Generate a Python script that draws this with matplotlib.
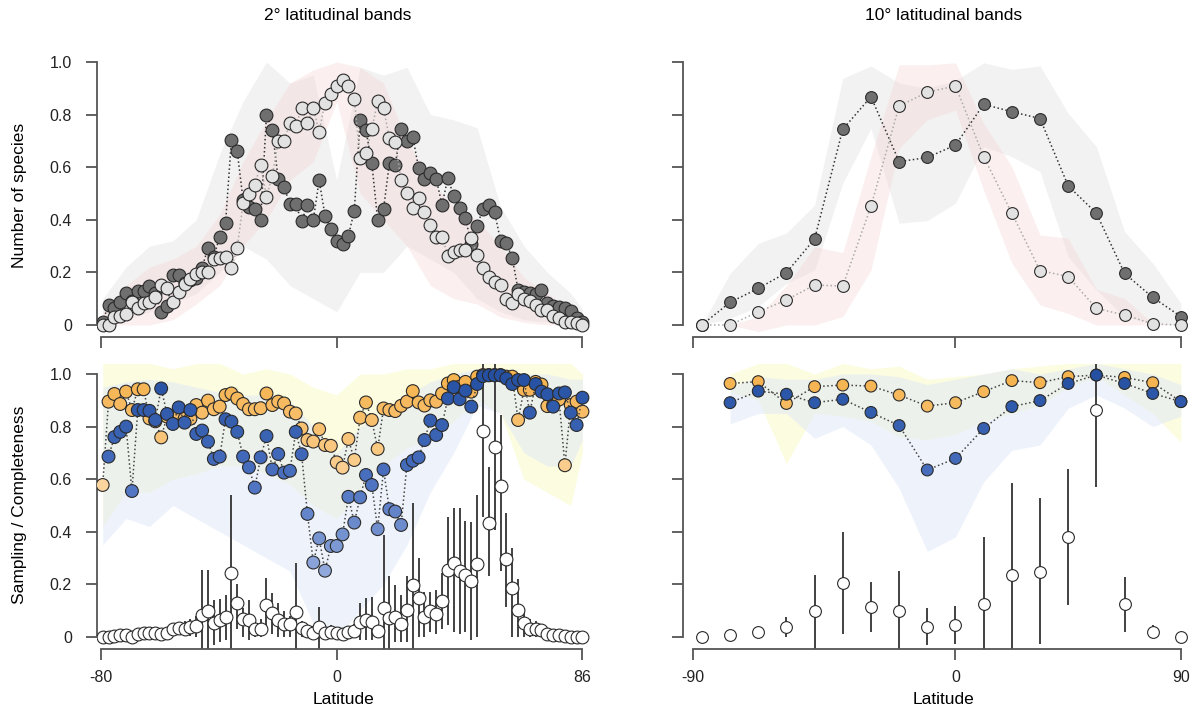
import numpy as np
import matplotlib
matplotlib.use('Agg')
import matplotlib.pyplot as plt
from matplotlib.colors import LinearSegmentedColormap, Normalize

plt.rcParams['font.family'] = ['Liberation Sans', 'DejaVu Sans']

# ---- 2 degree bands (83 bands, plotted by band index) ----
ticks_2 = [-0.3, 40, 82]
tick_labels_2 = ['-80', '0', '86']

dark_2 = [0.013, 0.076, 0.065, 0.089, 0.12, 0.09, 0.13, 0.13, 0.148, 0.12,
          0.048, 0.074, 0.19, 0.19, 0.16, 0.17, 0.18, 0.218, 0.294, 0.26,
          0.336, 0.387, 0.703, 0.66, 0.475, 0.45, 0.44, 0.40, 0.80, 0.74,
          0.555, 0.526, 0.459, 0.459, 0.395, 0.456, 0.40, 0.55, 0.416, 0.365,
          0.32, 0.307, 0.34, 0.433, 0.78, 0.74, 0.615, 0.40, 0.44, 0.615,
          0.61, 0.745, 0.70, 0.716, 0.596, 0.557, 0.577, 0.557, 0.456, 0.56,
          0.49, 0.446, 0.408, 0.307, 0.378, 0.44, 0.456, 0.428, 0.32, 0.31,
          0.256, 0.133, 0.124, 0.12, 0.117, 0.133, 0.082, 0.074, 0.07, 0.066,
          0.053, 0.025, 0.013]
light_2 = [0.0, 0.0, 0.032, 0.034, 0.04, 0.089, 0.063, 0.082, 0.086, 0.108,
           0.152, 0.14, 0.089, 0.127, 0.155, 0.175, 0.193, 0.20, 0.203, 0.25,
           0.256, 0.26, 0.215, 0.294, 0.463, 0.497, 0.532, 0.61, 0.488, 0.568,
           0.70, 0.70, 0.767, 0.757, 0.824, 0.767, 0.824, 0.735, 0.845, 0.88,
           0.91, 0.93, 0.91, 0.86, 0.634, 0.653, 0.745, 0.852, 0.826, 0.71,
           0.695, 0.551, 0.50, 0.444, 0.484, 0.43, 0.38, 0.336, 0.336, 0.264,
           0.279, 0.285, 0.285, 0.332, 0.266, 0.218, 0.184, 0.165, 0.152, 0.10,
           0.082, 0.117, 0.10, 0.091, 0.076, 0.057, 0.057, 0.036, 0.025, 0.013,
           0.013, 0.006, 0.0]

# envelopes read every 4th band
band_x_2 = [0, 4, 8, 12, 16, 20, 24, 28, 32, 36, 40, 44, 48, 52, 56, 60, 64, 68, 72, 76, 80, 82]
dark_lo_2 = [0.0, 0.02, 0.05, 0.08, 0.12, 0.20, 0.30, 0.25, 0.15, 0.10, 0.05,
             0.20, 0.20, 0.30, 0.25, 0.20, 0.10, 0.05, 0.02, 0.01, 0.0, 0.0]
dark_hi_2 = [0.10, 0.22, 0.30, 0.32, 0.40, 0.65, 0.85, 1.0, 0.92, 0.95, 0.55,
             0.98, 0.95, 0.98, 0.80, 0.78, 0.75, 0.45, 0.30, 0.20, 0.12, 0.06]
light_lo_2 = [0.0, 0.0, 0.0, 0.02, 0.08, 0.15, 0.30, 0.40, 0.55, 0.62, 0.85,
              0.50, 0.40, 0.30, 0.15, 0.10, 0.08, 0.03, 0.01, 0.0, 0.0, 0.0]
light_hi_2 = [0.05, 0.15, 0.22, 0.25, 0.30, 0.42, 0.62, 0.78, 0.92, 0.97, 1.0,
              0.98, 0.92, 0.70, 0.55, 0.45, 0.40, 0.30, 0.18, 0.12, 0.06, 0.02]

orange_2 = [0.578, 0.895, 0.924, 0.886, 0.933, 0.863, 0.942, 0.942, 0.831, 0.82,
            0.759, 0.838, 0.84, 0.85, 0.83, 0.83, 0.882, 0.853, 0.899, 0.866,
            0.876, 0.92, 0.926, 0.907, 0.886, 0.866, 0.866, 0.87, 0.926, 0.882,
            0.895, 0.888, 0.857, 0.85, 0.793, 0.749, 0.743, 0.79, 0.73, 0.727,
            0.664, 0.644, 0.753, 0.673, 0.834, 0.892, 0.825, 0.715, 0.869, 0.863,
            0.859, 0.879, 0.895, 0.935, 0.892, 0.88, 0.9, 0.895, 0.926, 0.964,
            0.977, 0.952, 0.97, 0.933, 0.99, 0.996, 0.996, 0.996, 0.996, 0.99,
            0.99, 0.825, 0.94, 0.94, 0.97, 0.96, 0.878, 0.882, 0.903, 0.653,
            0.882, 0.895, 0.857]
blue_2 = [np.nan, 0.686, 0.76, 0.78, 0.80, 0.555, 0.863, 0.863, 0.86, 0.825,
          0.945, 0.848, 0.81, 0.873, 0.815, 0.863, 0.772, 0.785, 0.743, 0.677,
          0.686, 0.828, 0.819, 0.78, 0.686, 0.645, 0.568, 0.683, 0.764, 0.637,
          0.696, 0.625, 0.632, 0.78, 0.695, 0.468, 0.283, 0.375, 0.252, 0.346,
          0.346, 0.39, 0.533, 0.435, 0.531, 0.616, 0.578, 0.41, 0.637, 0.486,
          0.477, 0.426, 0.654, 0.67, 0.683, 0.749, 0.823, 0.768, 0.806, 0.907,
          0.95, 0.904, 0.937, 0.876, 0.962, 0.992, 0.995, 0.995, 0.995, 0.983,
          0.962, 0.977, 0.977, 0.853, 0.962, 0.933, 0.923, 0.876, 0.926, 0.93,
          0.853, 0.806, 0.91]
orange_lo_2 = [0.42, 0.55, 0.55, 0.60, 0.62, 0.65, 0.65, 0.62, 0.58, 0.50, 0.45,
               0.55, 0.65, 0.72, 0.75, 0.82, 0.90, 0.85, 0.60, 0.55, 0.50, 0.70]
orange_hi_2 = [1.04, 1.04, 1.04, 1.02, 1.04, 1.04, 1.0, 1.02, 1.0, 0.95, 0.92,
               1.0, 1.0, 1.02, 1.02, 1.04, 1.04, 1.04, 1.04, 1.04, 1.04, 1.0]
blue_lo_2 = [0.35, 0.45, 0.42, 0.50, 0.45, 0.40, 0.35, 0.30, 0.25, 0.05, 0.0,
             0.10, 0.20, 0.35, 0.55, 0.70, 0.88, 0.85, 0.70, 0.65, 0.65, 0.75]
blue_hi_2 = [0.95, 0.97, 0.98, 0.97, 0.95, 0.93, 0.92, 0.92, 0.90, 0.80, 0.70,
             0.80, 0.85, 0.92, 0.97, 1.0, 1.02, 1.02, 1.0, 1.0, 0.98, 0.98]

samp_2 = [0.0, 0.001, 0.004, 0.006, 0.008, 0.0, 0.011, 0.014, 0.014, 0.014,
          0.011, 0.014, 0.029, 0.033, 0.029, 0.039, 0.042, 0.084, 0.10, 0.052,
          0.065, 0.075, 0.242, 0.131, 0.067, 0.065, 0.029, 0.03, 0.122, 0.09,
          0.065, 0.048, 0.048, 0.094, 0.033, 0.023, 0.014, 0.039, 0.014, 0.018,
          0.014, 0.01, 0.02, 0.023, 0.056, 0.065, 0.058, 0.023, 0.112, 0.074,
          0.077, 0.048, 0.103, 0.198, 0.147, 0.075, 0.10, 0.087, 0.138, 0.255,
          0.283, 0.252, 0.236, 0.214, 0.278, 0.785, 0.435, 0.721, 0.574, 0.295,
          0.185, 0.103, 0.054, 0.029, 0.029, 0.027, 0.011, 0.008, 0.008, 0.004,
          0.0, 0.0, 0.0]
samp_lo_2 = [0, 0, 0, 0, 0, 0, 0, 0, 0, 0,
             0, 0, 0.01, 0.01, 0.005, 0.005, 0.0, -0.05, -0.05, -0.03,
             -0.02, -0.01, -0.05, 0.03, 0.0, -0.01, 0.0, 0.0, 0.03, 0.01,
             0.0, 0.0, 0.0, -0.05, 0.0, 0.0, 0.0, -0.05, 0.0, 0.0,
             0.0, 0.0, 0.0, 0.0, -0.01, -0.01, -0.01, 0.0, -0.05, -0.05,
             -0.02, -0.02, -0.02, -0.05, 0.0, 0.0, 0.02, 0.01, 0.03, 0.046,
             0.02, 0.01, 0.02, -0.01, 0.0, 0.457, 0.23, 0.407, 0.25, 0.115,
             0.0, 0.0, 0.0, 0.0, 0.0, 0.0, 0.0, 0, 0, 0,
             0, 0, 0]
samp_hi_2 = [0, 0.005, 0.01, 0.012, 0.015, 0.005, 0.02, 0.025, 0.025, 0.03,
             0.025, 0.03, 0.05, 0.055, 0.06, 0.07, 0.08, 0.255, 0.255, 0.14,
             0.143, 0.16, 0.54, 0.20, 0.11, 0.14, 0.07, 0.07, 0.223, 0.166,
             0.13, 0.10, 0.08, 0.28, 0.06, 0.05, 0.04, 0.115, 0.04, 0.045,
             0.035, 0.03, 0.04, 0.05, 0.13, 0.147, 0.153, 0.06, 0.388, 0.233,
             0.198, 0.16, 0.233, 0.508, 0.30, 0.17, 0.172, 0.18, 0.242, 0.458,
             0.489, 0.489, 0.44, 0.438, 0.54, 1.05, 0.648, 1.05, 0.844, 0.47,
             0.337, 0.22, 0.11, 0.07, 0.06, 0.05, 0.03, 0.02, 0.015, 0.01,
             0.005, 0, 0]

# ---- 10 degree bands (18 bands) ----
ticks_10 = [-0.32, 9, 17]
tick_labels_10 = ['-90', '0', '90']

dark_10 = [0.0, 0.086, 0.139, 0.199, 0.327, 0.744, 0.868, 0.621, 0.637, 0.684,
           0.839, 0.811, 0.785, 0.529, 0.425, 0.196, 0.105, 0.032]
light_10 = [0.0, 0.0, 0.05, 0.095, 0.152, 0.148, 0.451, 0.833, 0.885, 0.909,
            0.64, 0.425, 0.207, 0.184, 0.063, 0.038, 0.004, 0.0]
dark_lo_10 = [0.0, 0.025, 0.07, 0.158, 0.209, 0.539, 0.748, 0.387, 0.397, 0.463,
              0.678, 0.64, 0.583, 0.26, 0.133, 0.032, 0.006, 0.0]
dark_hi_10 = [0.0, 0.196, 0.31, 0.35, 0.456, 0.938, 0.985, 0.92, 0.90, 0.93,
              0.997, 0.972, 0.985, 0.805, 0.678, 0.355, 0.235, 0.082]
light_lo_10 = [np.nan, 0.0, -0.025, 0.0, 0.0, 0.032, 0.209, 0.672, 0.78, 0.817,
               0.513, 0.235, 0.076, 0.044, 0.0, 0.0, 0.0, 0.0]
light_hi_10 = [np.nan, 0.0, 0.032, 0.15, 0.298, 0.275, 0.64, 0.989, 0.989, 0.997,
               0.767, 0.602, 0.342, 0.33, 0.136, 0.101, 0.006, 0.0]

orange_10 = [np.nan, 0.964, 0.971, 0.888, 0.952, 0.958, 0.954, 0.92, 0.878, 0.891,
             0.933, 0.975, 0.967, 0.99, 0.996, 0.987, 0.967, 0.895]
blue_10 = [np.nan, 0.891, 0.935, 0.923, 0.891, 0.904, 0.854, 0.804, 0.635, 0.679,
           0.793, 0.876, 0.899, 0.964, 0.996, 0.964, 0.926, 0.895]
orange_lo_10 = [np.nan, 0.93, 0.90, 0.66, 0.85, 0.84, 0.82, 0.76, 0.75, 0.77,
                0.82, 0.85, 0.88, 0.95, 0.99, 0.92, 0.85, 0.74]
orange_hi_10 = [np.nan, 1.0, 1.04, 1.04, 1.0, 1.04, 1.02, 1.03, 0.98, 0.99,
                1.0, 1.02, 1.03, 1.04, 1.04, 1.04, 1.04, 1.04]
blue_lo_10 = [np.nan, 0.81, 0.85, 0.85, 0.755, 0.80, 0.73, 0.565, 0.325, 0.38,
              0.59, 0.71, 0.73, 0.87, 0.92, 0.87, 0.80, 0.84]
blue_hi_10 = [np.nan, 0.95, 0.99, 0.98, 0.98, 1.0, 1.0, 0.99, 0.96, 0.98,
              1.0, 1.02, 1.0, 1.02, 1.04, 1.02, 1.0, 0.96]

samp_10 = [0.0, 0.008, 0.02, 0.039, 0.10, 0.204, 0.115, 0.10, 0.039, 0.046,
           0.125, 0.236, 0.248, 0.379, 0.863, 0.125, 0.02, 0.0]
samp_lo_10 = [0.0, 0.008, 0.02, 0.0, -0.05, 0.011, 0.02, -0.05, -0.03, -0.027,
              -0.05, -0.05, -0.027, 0.122, 0.572, 0.02, -0.005, 0.0]
samp_hi_10 = [0.0, 0.008, 0.02, 0.077, 0.236, 0.40, 0.21, 0.252, 0.109, 0.119,
              0.381, 0.584, 0.527, 0.637, 1.05, 0.229, 0.046, 0.0]

yticks = [0, 0.2, 0.4, 0.6, 0.8, 1.0]
ytick_labels = ['0', '0.2', '0.4', '0.6', '0.8', '1.0']

blue_cmap = LinearSegmentedColormap.from_list('b', ['#9ab0df', '#4a70bf', '#2550a2'])
orange_cmap = LinearSegmentedColormap.from_list('o', ['#fcd7a4', '#f8c274', '#f5b24c'])
blue_norm = Normalize(0.2, 1.0)
orange_norm = Normalize(0.55, 1.0)

W, H = 1199, 716
fig = plt.figure(figsize=(W / 100, H / 100), dpi=100)


def make_axes(x0, x1, ytop, ybot):
    return fig.add_axes([x0 / W, 1 - ybot / H, (x1 - x0) / W, (ybot - ytop) / H])


ax_tl = make_axes(97, 600, 51.5, 336.8)
ax_bl = make_axes(97, 600, 363.5, 648.8)
ax_tr = make_axes(683, 1195, 51.5, 336.8)
ax_br = make_axes(683, 1195, 363.5, 648.8)


def style(ax, xt, xtl, ylab, xlab, xlim):
    for s in ['top', 'right']:
        ax.spines[s].set_visible(False)
    for s in ['left', 'bottom']:
        ax.spines[s].set_color('#555555')
        ax.spines[s].set_linewidth(1.3)
    ax.spines['left'].set_bounds(0, 1)
    ax.spines['bottom'].set_bounds(xt[0], xt[-1])
    ax.set_xlim(*xlim)
    ax.set_ylim(-0.045, 1.04)
    ax.set_yticks(yticks)
    ax.set_yticklabels(ytick_labels if ylab else [])
    ax.set_xticks(xt)
    ax.set_xticklabels(xtl if xlab else [])
    ax.tick_params(direction='out', length=8, width=1.3, color='#555555',
                   labelsize=11.5, labelcolor='#222222')
    ax.tick_params(axis='y', pad=10)
    ax.tick_params(axis='x', pad=7)


def species_panel(ax, x, dark, light, bx, dlo, dhi, llo, lhi, ms):
    ax.fill_between(bx, dlo, dhi, color='#eeeeee', alpha=0.75, lw=0, zorder=1)
    ax.fill_between(bx, llo, lhi, color='#f6d5d5', alpha=0.38, lw=0, zorder=1)
    ax.plot(x, dark, ls=':', color='#333333', lw=1.1, zorder=2)
    ax.scatter(x, dark, s=ms, c='#6f6f6f', edgecolors='#2a2a2a', linewidths=0.8, zorder=3)
    ax.plot(x, light, ls=':', color='#aaaaaa', lw=1.1, zorder=4)
    ax.scatter(x, light, s=ms, c='#e2e2e2', edgecolors='#2a2a2a', linewidths=0.8, zorder=5)


def sampling_panel(ax, x, orange, blue, bx, olo, ohi, blo, bhi, samp, slo, shi, ms):
    ax.fill_between(bx, olo, ohi, color='#fbfbc8', alpha=0.55, lw=0, zorder=1)
    ax.fill_between(bx, blo, bhi, color='#dfe8f8', alpha=0.5, lw=0, zorder=1)
    ax.vlines(x, slo, shi, color='#333333', lw=1.3, zorder=2)
    ax.plot(x, orange, ls=':', color='#444444', lw=1.1, zorder=3)
    ax.scatter(x, orange, s=ms, c=np.array(orange, dtype=float), cmap=orange_cmap,
               norm=orange_norm, edgecolors='#2a2a2a', linewidths=0.8, zorder=4)
    ax.plot(x, blue, ls=':', color='#444444', lw=1.1, zorder=5)
    ax.scatter(x, blue, s=ms, c=np.array(blue, dtype=float), cmap=blue_cmap,
               norm=blue_norm, edgecolors='#2a2a2a', linewidths=0.8, zorder=6)
    ax.scatter(x, samp, s=ms, c='white', edgecolors='#2a2a2a', linewidths=0.8, zorder=7)


x2 = np.arange(len(dark_2))
x10 = np.arange(len(dark_10))

species_panel(ax_tl, x2, dark_2, light_2, band_x_2, dark_lo_2, dark_hi_2,
              light_lo_2, light_hi_2, 85)
species_panel(ax_tr, x10, dark_10, light_10, x10, dark_lo_10, dark_hi_10,
              light_lo_10, light_hi_10, 72)
sampling_panel(ax_bl, x2, orange_2, blue_2, band_x_2, orange_lo_2, orange_hi_2,
               blue_lo_2, blue_hi_2, samp_2, samp_lo_2, samp_hi_2, 85)
sampling_panel(ax_br, x10, orange_10, blue_10, x10, orange_lo_10, orange_hi_10,
               blue_lo_10, blue_hi_10, samp_10, samp_lo_10, samp_hi_10, 72)

style(ax_tl, ticks_2, tick_labels_2, True, False, (-0.97, 85))
style(ax_bl, ticks_2, tick_labels_2, True, True, (-0.97, 85))
style(ax_tr, ticks_10, tick_labels_10, False, False, (-0.67, 17.5))
style(ax_br, ticks_10, tick_labels_10, False, True, (-0.67, 17.5))

fig.text(338 / W, 1 - 16 / H, '2° latitudinal bands', ha='center', va='center', fontsize=12.5)
fig.text(944 / W, 1 - 16 / H, '10° latitudinal bands', ha='center', va='center', fontsize=12.5)
fig.text(20 / W, 1 - 195 / H, 'Number of species', rotation=90, ha='center', va='center', fontsize=12.5)
fig.text(20 / W, 1 - 505 / H, 'Sampling / Completeness', rotation=90, ha='center', va='center', fontsize=12.5)
fig.text(343 / W, 1 - 699 / H, 'Latitude', ha='center', va='center', fontsize=12.5)
fig.text(944 / W, 1 - 699 / H, 'Latitude', ha='center', va='center', fontsize=12.5)

fig.savefig('out.png', dpi=100)
